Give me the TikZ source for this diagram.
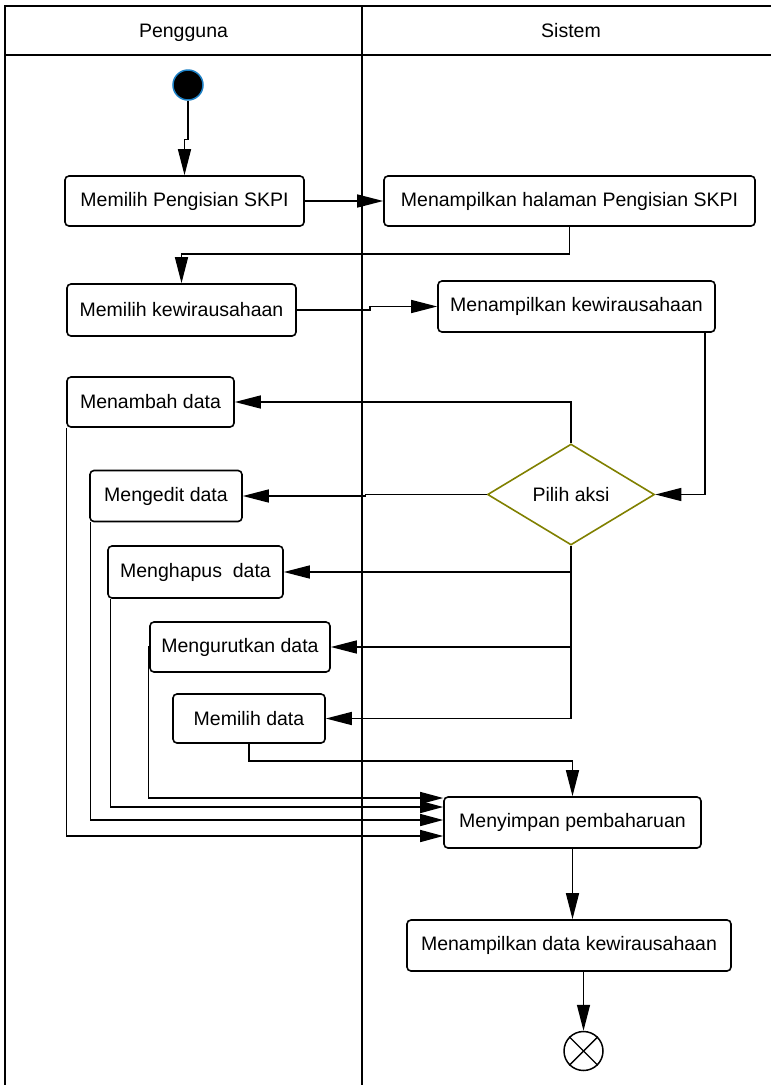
\documentclass[tikz,border=0pt]{standalone}
\usepackage{fontspec}
\setmainfont{Liberation Sans}
\usetikzlibrary{arrows.meta,shapes.geometric,calc}

\definecolor{startblue}{HTML}{1C7FC4}
\definecolor{decision}{HTML}{808000}

\tikzset{
  lane/.style={line width=1.6pt, black},
  act/.style={draw, line width=1.6pt, rounded corners=4pt, inner sep=0pt,
              align=center, font=\fontsize{19.5}{23}\selectfont},
  choice/.style={draw=decision, diamond, aspect=1.65, line width=1.6pt, inner sep=0pt,
                 font=\fontsize{19.5}{23}\selectfont},
  flow/.style={line width=1.4pt, -{Triangle[length=26pt,width=13pt]}},
  merge/.style={line width=1.4pt, -{Triangle[length=23pt,width=12pt]}},
  lanetitle/.style={anchor=base, inner sep=0pt, font=\fontsize{19.5}{23}\selectfont},
}

\begin{document}
\begin{tikzpicture}[x=1pt,y=-1pt]
\useasboundingbox (0,0) rectangle (771,1085);

% swimlane frame
\draw[lane] (5,1085) -- (5,6) -- (771,6);
\draw[lane] (5,55) -- (771,55);
\draw[lane] (362,6) -- (362,1085);
\node[lanetitle] (hUser) at (183.5,37) {Pengguna};
\node[lanetitle] (hSys) at (571,37) {Sistem};

% start and end
\node[circle, fill=black, draw=startblue, line width=1.5pt, minimum size=30pt, inner sep=0pt] (start) at (188,85) {};
\node[circle, draw, line width=1.5pt, minimum size=39pt, inner sep=0pt] (end) at (583.5,1051) {};
\draw[line width=1.4pt] (end.north east) -- (end.south west);
\draw[line width=1.4pt] (end.north west) -- (end.south east);

% activities
\node[act, minimum width=239pt, minimum height=50pt] (b1) at (184.5,201) {Memilih Pengisian SKPI};
\node[act, minimum width=371pt, minimum height=50pt] (b2) at (569.5,201) {Menampilkan halaman Pengisian SKPI};
\node[act, minimum width=229pt, minimum height=52pt] (b3) at (181.5,310) {Memilih kewirausahaan};
\node[act, minimum width=277pt, minimum height=51pt] (b4) at (576.5,306.5) {Menampilkan kewirausahaan};
\node[choice, minimum width=167pt, minimum height=101pt] (dia) at (571,494.5) {Pilih aksi};
\node[act, minimum width=167pt, minimum height=50pt] (b5) at (150.5,402) {Menambah data};
\node[act, minimum width=152pt, minimum height=51pt] (b6) at (166,496) {Mengedit data};
\node[act, minimum width=175pt, minimum height=52pt] (b7) at (195.5,572) {Menghapus\ \ data};
\node[act, minimum width=180pt, minimum height=50pt] (b8) at (240,647) {Mengurutkan data};
\node[act, minimum width=152pt, minimum height=49pt] (b9) at (249,718.5) {Memilih data};
\node[act, minimum width=257pt, minimum height=51pt] (b10) at (572.5,822.5) {Menyimpan pembaharuan};
\node[act, minimum width=324pt, minimum height=51pt] (b11) at (569,945.5) {Menampilkan data kewirausahaan};

% control flow
\draw[flow] (start.south) -- ++(0,39) -| (b1.north);
\draw[flow] (b1.east) -- (b2.west);
\draw[flow] (b2.south) -- ++(0,27) -| (b3.north);
\draw[flow] (b3.east) -- ++(73,0) |- (b4.west);
\draw[flow] ([xshift=-11pt]b4.south east) |- (dia.east);
\draw[flow] (dia.north) |- (b5.east);
\draw[flow] (dia.west) -- ++(-121,0) |- (b6.east);
\draw[flow] (dia.south) |- (b9.east);
\draw[flow] (dia.south |- b7.east) -- (b7.east);
\draw[flow] (dia.south |- b8.east) -- (b8.east);
\draw[flow] (b9.south) -- ++(0,17) -| (b10.north);

% merging into the save step
\draw[merge] (b8.west) -- ++(-1,0) |- ([yshift=24.5pt]b10.west);
\draw[merge] ([xshift=3pt]b7.south west) |- ([yshift=15.5pt]b10.west);
\draw[merge] ([xshift=1pt]b6.south west) |- ([yshift=2.5pt]b10.west);
\draw[merge] ([xshift=0.5pt]b5.south west) |- ([yshift=-13.5pt]b10.west);

\draw[flow] (b10.south) -- (b10.south |- b11.north);
\draw[flow] (b11.south -| end) -- (end.north);
\end{tikzpicture}
\end{document}
